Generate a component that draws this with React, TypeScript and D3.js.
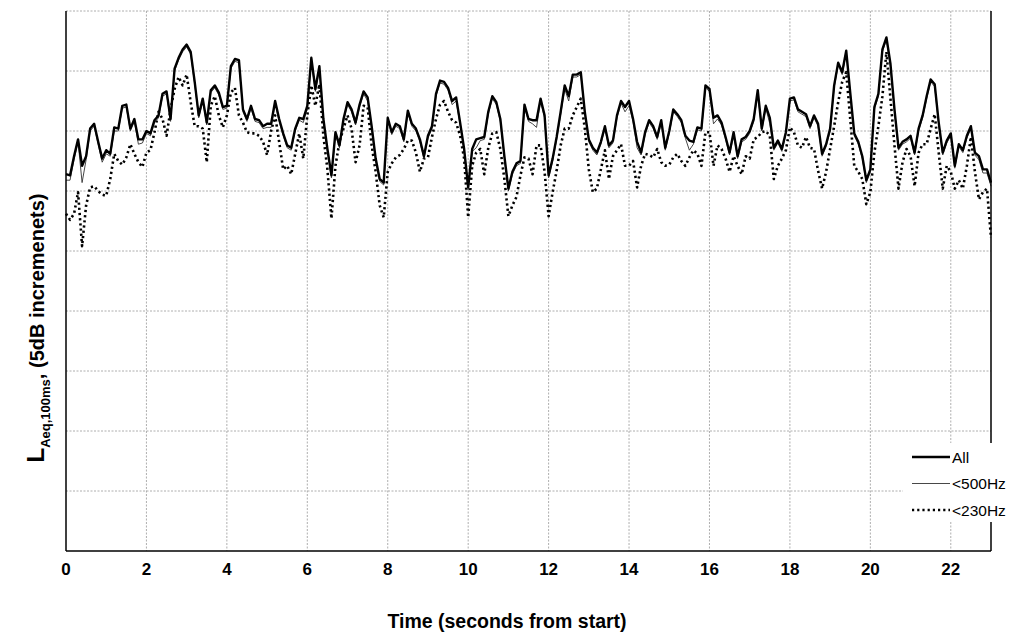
import React from "react";
import * as d3 from "d3";

const times: number[] = d3.range(231).map((i) => i / 10);

const all: number[] = [
  31.4,31.3,32.9,34.3,32.1,32.9,35.2,35.6,34.1,32.7,
  33.4,33.1,35.3,35.2,37.1,37.2,35.2,36.0,34.3,34.3,
  35.0,34.8,35.9,36.3,38.1,38.3,36.0,40.2,41.1,41.8,
  42.2,41.6,39.1,36.3,37.7,35.7,38.4,38.8,38.2,37.0,
  37.1,40.4,41.0,40.9,36.8,36.0,37.1,36.0,35.9,35.4,
  35.6,35.6,37.5,36.0,34.8,33.8,33.6,35.2,36.1,
  36.0,37.1,41.1,38.5,40.4,36.0,33.5,31.3,34.9,33.8,
  36.0,37.4,36.8,35.7,37.2,38.3,37.8,35.4,32.7,31.0,
  30.7,36.1,34.9,35.6,35.4,34.3,36.7,35.6,35.2,34.3,
  32.9,34.6,35.4,38.1,39.2,39.1,38.6,37.5,37.8,35.7,
  33.5,30.3,33.5,34.3,34.4,34.5,36.6,37.9,37.4,36.0,
  32.9,30.2,31.6,32.3,32.5,37.2,36.0,
  35.9,35.9,37.7,36.3,31.3,32.7,34.5,36.6,38.8,37.9,
  39.7,39.7,39.9,36.6,34.3,33.6,33.2,34.1,35.4,33.8,
  34.2,36.3,37.5,37.0,37.5,36.0,34.1,33.2,34.9,35.9,
  35.4,34.5,35.9,33.6,35.0,36.8,36.4,35.9,34.6,34.2,
  34.1,35.3,35.2,38.8,38.5,36.1,36.3,35.7,34.5,33.2,
  34.9,32.9,34.3,34.5,35.0,36.0,38.4,35.2,
  37.1,36.1,33.6,34.2,33.5,34.9,37.7,37.8,36.8,36.6,
  36.4,35.4,36.3,35.6,33.1,33.9,35.2,38.8,40.7,39.9,
  41.7,38.2,34.8,34.1,32.9,30.9,31.8,37.0,38.1,41.8,
  42.8,40.6,36.8,33.6,34.1,34.3,34.6,33.2,35.2,36.3,
  37.9,39.3,38.9,35.7,33.2,34.2,34.8,32.1,33.9,33.4,
  34.6,35.4,33.2,32.9,31.8,31.8,30.7,
];

const hz500: number[] = [
  30.9,30.9,32.6,34.1,30.7,32.6,35.0,35.4,33.9,32.4,
  33.1,32.9,35.0,35.0,36.9,37.0,35.0,35.8,33.9,34.0,
  34.8,34.6,35.7,36.1,37.9,38.1,35.8,40.0,40.9,41.6,
  42.0,41.4,38.9,36.1,37.5,35.5,38.2,38.6,38.0,36.8,
  36.9,40.2,40.8,40.7,36.6,35.8,36.9,35.8,35.7,35.2,
  35.3,35.3,37.3,35.8,34.6,33.6,33.4,35.0,35.9,
  35.7,36.9,40.8,38.3,40.1,35.8,33.3,31.1,34.7,33.6,
  35.8,37.2,36.6,35.5,37.0,38.1,37.5,35.2,32.5,30.8,
  30.5,35.9,34.7,35.4,35.2,34.1,36.5,35.4,35.0,34.1,
  32.7,34.4,35.2,37.9,39.0,38.9,38.4,37.2,37.5,35.5,
  33.3,30.1,33.3,33.6,34.2,34.3,36.4,37.7,37.2,35.8,
  32.7,30.0,31.4,32.1,32.3,37.0,35.8,
  35.6,35.3,37.5,36.1,31.1,32.5,34.3,36.4,38.5,37.5,
  39.5,39.5,39.7,36.4,34.1,33.4,33.0,33.9,35.2,33.6,
  34.0,36.1,37.3,36.6,37.1,35.8,33.6,33.0,34.7,35.7,
  35.2,34.3,35.7,33.4,34.8,36.6,36.2,35.7,34.4,33.4,
  33.9,35.1,35.0,38.6,38.3,35.6,36.0,35.5,34.3,33.0,
  34.7,32.7,34.1,34.3,34.8,35.8,38.2,35.0,
  36.9,35.6,33.4,34.0,33.3,34.7,37.5,37.6,36.6,36.4,
  36.2,35.2,36.1,35.4,32.9,33.7,35.0,38.6,40.5,39.7,
  41.5,38.0,34.6,33.9,32.7,30.7,31.6,36.8,37.9,41.6,
  42.6,40.4,36.6,33.4,33.9,34.1,34.4,33.0,35.0,36.1,
  37.7,39.1,38.7,35.5,33.0,34.0,34.6,31.9,33.7,33.2,
  34.4,35.2,33.0,32.6,31.5,31.5,30.4,
];

const hz230: number[] = [
  28.1,27.6,28.1,29.9,25.4,28.8,30.3,30.4,30.0,29.7,
  29.6,31.0,33.1,32.5,32.2,32.8,33.9,33.1,32.4,32.0,
  33.2,33.4,34.9,36.6,36.0,34.6,36.8,38.5,39.5,38.8,
  39.7,37.4,35.4,35.4,35.2,32.4,37.1,37.9,36.3,35.3,
  36.3,38.2,38.6,36.3,35.7,34.9,34.8,34.8,34.6,34.1,
  33.0,35.0,36.3,34.1,31.8,32.1,31.4,33.1,34.8,
  32.7,36.3,38.8,37.1,38.9,34.6,31.8,27.7,32.1,34.1,
  35.2,36.3,35.2,32.4,33.8,37.1,37.0,33.8,31.6,28.8,
  27.8,31.6,32.3,32.8,33.0,33.5,34.2,34.2,33.2,31.6,
  32.7,32.8,34.5,36.0,37.2,37.5,36.6,35.9,35.7,34.6,
  32.7,27.8,32.1,33.2,33.5,31.4,33.6,34.8,34.9,33.5,
  31.0,27.9,28.8,29.5,31.3,32.8,32.7,
  31.4,33.8,33.8,31.6,27.9,29.9,31.7,33.8,35.2,35.2,
  36.3,37.0,37.7,35.2,31.8,29.9,30.2,31.8,33.4,31.0,
  32.9,33.4,33.9,32.1,32.1,32.5,30.3,32.1,33.1,33.0,
  32.8,33.5,32.4,32.1,32.2,32.8,33.1,32.5,32.1,32.8,
  33.4,33.1,32.1,34.9,34.9,32.1,33.8,33.5,32.7,31.6,
  32.9,32.1,31.4,32.9,32.7,34.3,34.5,34.9,
  35.0,34.6,31.0,32.1,32.7,33.4,35.3,34.9,33.8,33.6,
  34.5,33.6,33.5,31.7,30.2,31.6,33.5,35.4,37.4,39.1,
  39.9,36.0,32.1,31.6,31.0,28.9,29.9,33.2,35.4,37.9,
  41.6,37.7,33.8,30.2,32.4,33.5,32.9,30.4,33.2,33.9,
  33.9,35.2,36.4,33.2,30.2,32.1,31.6,30.2,30.9,30.2,
  32.1,34.5,31.6,29.3,29.9,30.2,26.1,
];

const xTicks: number[] = [0, 2, 4, 6, 8, 10, 12, 14, 16, 18, 20, 22];
const yTicks: number[] = [5, 10, 15, 20, 25, 30, 35, 40];
const legendLabels: string[] = ["All", "<500Hz", "<230Hz"];

export default function App() {
  const W = 1013, H = 634;
  const L = 66, R = 991, T = 11, B = 551;
  const x = d3.scaleLinear().domain([0, 23]).range([L, R]);
  const y = d3.scaleLinear().domain([0, 45]).range([B, T]);
  const mk = (vals: number[]) =>
    d3.line<number>().x((_, i) => x(times[i])).y((v) => y(v))(vals) || "";
  const font = "Arial, 'Liberation Sans', sans-serif";
  const styles = [
    { d: mk(all), w: 2.4, dash: undefined as string | undefined, c: "#000" },
    { d: mk(hz500), w: 0.9, dash: undefined, c: "#333" },
    { d: mk(hz230), w: 2.6, dash: "2.2 3", c: "#000" },
  ];
  return (
    <svg width={W} height={H} style={{ position: "absolute", left: 0, top: 0 }} fontFamily={font}>
      <rect width={W} height={H} fill="#fff" />
      {xTicks.filter((t) => t > 0).map((t) => (
        <line key={"gx" + t} x1={x(t)} x2={x(t)} y1={T} y2={B} stroke="#999" strokeWidth={0.8} strokeDasharray="2 1.5" />
      ))}
      {yTicks.concat([45]).map((t) => (
        <line key={"gy" + t} x1={L} x2={R} y1={y(t)} y2={y(t)} stroke="#999" strokeWidth={0.8} strokeDasharray="2 1.5" />
      ))}
      <g>
        {styles.slice().reverse().map((s, i) => (
          <path key={i} d={s.d} fill="none" stroke={s.c} strokeWidth={s.w} strokeDasharray={s.dash} strokeLinejoin="round" />
        ))}
      </g>
      <line x1={L} x2={L} y1={T} y2={B} stroke="#000" strokeWidth={1.5} />
      <line x1={L} x2={R} y1={B} y2={B} stroke="#000" strokeWidth={1.5} />
      <line x1={R} x2={R} y1={T} y2={B} stroke="#000" strokeWidth={1.5} />
      <rect x={903} y={443} width={110} height={79} fill="#fff" />
      {legendLabels.map((lab, i) => {
        const s = styles[i];
        const yy = 457 + i * 26.5;
        return (
          <g key={lab}>
            <line x1={912} x2={950} y1={yy} y2={yy} stroke={s.c} strokeWidth={s.w} strokeDasharray={s.dash} />
            <text x={952} y={yy + 5.5} fontSize={15.5} fill="#000">{lab}</text>
          </g>
        );
      })}
      {xTicks.map((t) => (
        <text key={"tx" + t} x={x(t)} y={575} textAnchor="middle" fontSize={17} fontWeight="bold">{t}</text>
      ))}
      <text x={507} y={628} textAnchor="middle" fontSize={19.5} fontWeight="bold">Time (seconds from start)</text>
      <text transform="translate(44,328) rotate(-90)" textAnchor="middle" fontWeight="bold" fontSize={20}>
        <tspan fontSize={24}>L</tspan>
        <tspan fontSize={13} dy={6}>Aeq,100ms</tspan>
        <tspan dy={-6}>,   (5dB incremenets)</tspan>
      </text>
    </svg>
  );
}
